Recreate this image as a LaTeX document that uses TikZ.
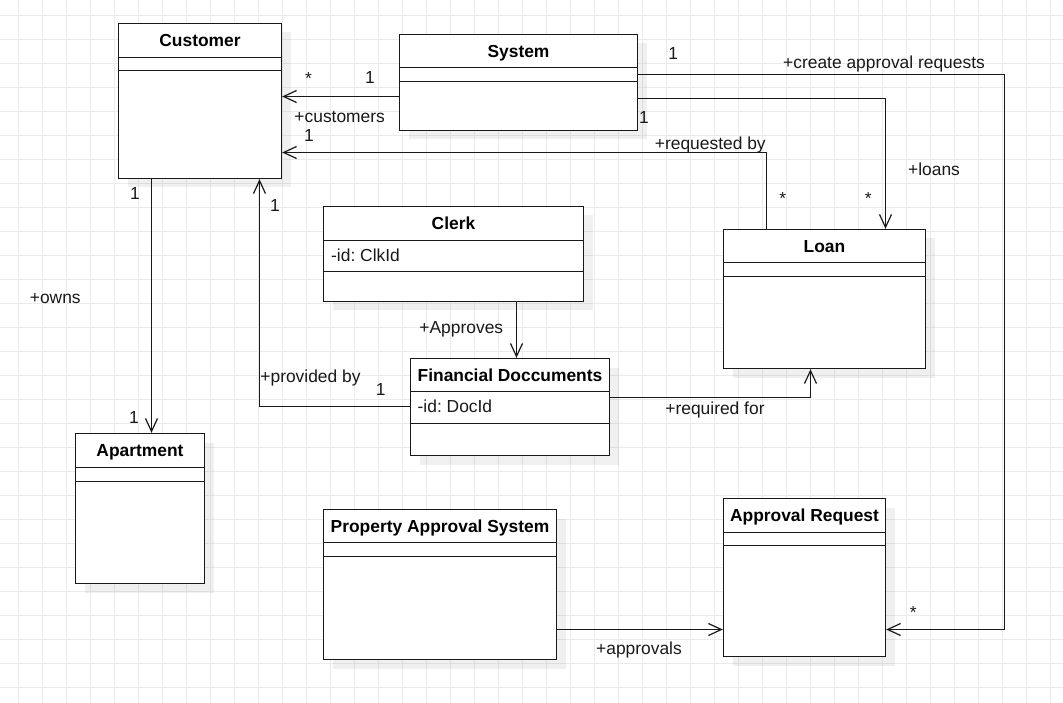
\documentclass[tikz,border=0pt]{standalone}
\usepackage{fontspec}
\setmainfont{Liberation Sans}
\usetikzlibrary{arrows.meta,fit,calc}
\newcommand\umlclass[8]{%
  % #1 name, #2 x1, #3 y1, #4 x2, #5 y2, #6 header bottom, #7 divider, #8 title
  \fill[shadowfill] ({#2+9},{#3+9}) rectangle ({#4+9},{#5+9});
  \node[classbox, fit={(#2,#3) (#4,#5)}] (#1) {};
  \draw[divider] (#2,#6) -- (#4,#6);
  \draw[divider] (#2,#7) -- (#4,#7);
  \node[ttl] (#1-title) at ({(#2+#4)/2},{(#3+#6)/2+6.3}) {#8};
}
\begin{document}
\frenchspacing
\begin{tikzpicture}[x=1pt,y=-1pt,
  every node/.style={font=\fontsize{17.4}{20}\selectfont\frenchspacing, inner sep=0pt, text=black!90},
  classbox/.style={draw=black!90, fill=white, line width=1.3pt, inner sep=0pt},
  divider/.style={draw=black!90, line width=1.3pt},
  ttl/.style={anchor=base, font=\fontsize{17.4}{20}\selectfont\bfseries, text=black},
  attr/.style={anchor=base west},
  lbl/.style={anchor=base},
  conn/.style={draw=black!90, line width=1.2pt, -{Straight Barb[length=13pt,width=12pt]}},
  shadowfill/.style={fill=black, opacity=0.06},
  gridline/.style={draw=black!8, line width=1pt}]
\useasboundingbox (0,0) rectangle (1063,703);
\fill[white] (0,0) rectangle (1063,703);
% grid
\foreach \i in {0,...,43} \draw[gridline] ({18.5+24*\i},0) -- ({18.5+24*\i},703);
\foreach \j in {0,...,28} \draw[gridline] (0,{15.5+24*\j}) -- (1063,{15.5+24*\j});

% classes
\umlclass{cust}{118.5}{23.5}{281.5}{178.5}{57.5}{70.5}{Customer}
\umlclass{sys}{399.5}{34.5}{637.5}{130.5}{67.5}{81.5}{System}
\umlclass{clerk}{323.5}{206.5}{583.5}{301.5}{240.5}{271.5}{Clerk}
\node[attr] (clerk-attr) at (331,261.3) {-id: ClkId};
\umlclass{fd}{410.5}{358.5}{609.5}{455.5}{391.5}{423.5}{Financial Doccuments}
\node[attr] (fd-attr) at (417.5,412.5) {-id: DocId};
\umlclass{loan}{723.5}{229.5}{925.5}{368.5}{262.5}{276.5}{Loan}
\umlclass{apt}{75.5}{433.5}{204.5}{583.5}{467.5}{481.5}{Apartment}
\umlclass{pas}{323.5}{509.5}{556.5}{659.5}{542.5}{556.5}{Property Approval System}
\umlclass{ar}{723.5}{498.5}{885.5}{656.5}{532.5}{545.5}{Approval Request}

% routing coordinates
\coordinate (y74) at (0,74.5);
\coordinate (y96) at (0,96.5);
\coordinate (y99) at (0,98.5);
\coordinate (y153) at (0,152.5);
\coordinate (y397) at (0,397.5);
\coordinate (y407) at (0,406.5);
\coordinate (y629) at (0,629.5);
\coordinate (x151) at (151.5,0);
\coordinate (x259) at (259.5,0);
\coordinate (x516) at (516.5,0);
\coordinate (x767) at (766.5,0);
\coordinate (x810) at (810.5,0);
\coordinate (x885) at (885.5,0);
\coordinate (x1004) at (1004.5,0);

% connectors
\draw[conn] (sys.west |- y96) -- (cust.east |- y96);
\draw[conn] (loan.north -| x767) |- (cust.east |- y153);
\draw[conn] (sys.east |- y99) -| (loan.north -| x885);
\draw[conn] (sys.east |- y74) -- (x1004 |- y74) -- (x1004 |- y629) -- (ar.east |- y629);
\draw[conn] (cust.south -| x151) -- (apt.north -| x151);
\draw[conn] (fd.west |- y407) -| (cust.south -| x259);
\draw[conn] (clerk.south -| x516) -- (fd.north -| x516);
\draw[conn] (fd.east |- y397) -| (loan.south -| x810);
\draw[conn] (pas.east |- y629) -- (ar.west |- y629);

% labels
\node[lbl] (l1) at (308.5,84.8) {*};
\node[lbl] (l2) at (370,84) {1};
\node[lbl] (l3) at (339.7,122.3) {+customers};
\node[lbl] (l4) at (309,141.3) {1};
\node[lbl] (l5) at (135,200) {1};
\node[lbl] (l6) at (275,212) {1};
\node[lbl] (l7) at (673.3,59.3) {1};
\node[lbl] (l8) at (884,68.3) {+create approval requests};
\node[lbl] (l9) at (644,123.3) {1};
\node[lbl] (l10) at (710.3,149.3) {+requested by};
\node[lbl] (l11) at (934,176) {+loans};
\node[lbl] (l12) at (782.7,204.8) {*};
\node[lbl] (l13) at (868.3,204.8) {*};
\node[lbl] (l14) at (461.3,333.3) {+Approves};
\node[lbl] (l15) at (380.7,395) {1};
\node[lbl] (l16) at (310.5,382.7) {+provided by};
\node[lbl] (l17) at (715,414.3) {+required for};
\node[lbl] (l18) at (55.3,304) {+owns};
\node[lbl] (l19) at (134,423.3) {1};
\node[lbl] (l20) at (913.3,618) {*};
\node[lbl] (l21) at (639,654.3) {+approvals};
\end{tikzpicture}
\end{document}
